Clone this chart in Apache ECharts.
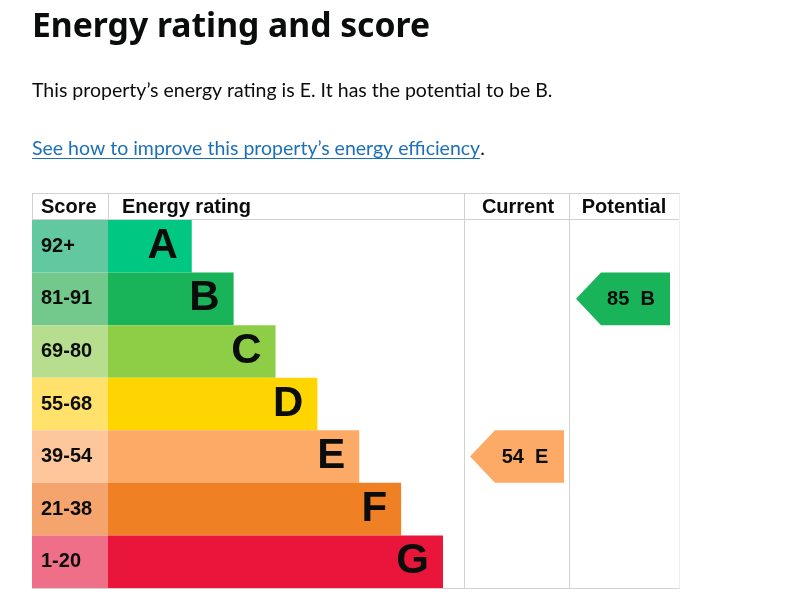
<!DOCTYPE html>
<html>
<head>
<meta charset="utf-8">
<script src="https://cdn.jsdelivr.net/npm/echarts@6/dist/echarts.min.js"></script>
<style>
html,body{margin:0;padding:0;background:#fff;}
#chart{width:788px;height:600px;}
</style>
</head>
<body>
<div id="chart"></div>
<script>
// ---- data ----
const ratings = ['A', 'B', 'C', 'D', 'E', 'F', 'G'];
const scoreRanges = ['92+', '81-91', '69-80', '55-68', '39-54', '21-38', '1-20'];
const barLengths = [2, 3, 4, 5, 6, 7, 8];
const bandColors = ['#00c781', '#19b459', '#8dce46', '#ffd500', '#fcaa65', '#ef8023', '#e9153b'];
const scoreColors = ['#62c8a0', '#72c98b', '#b6de8e', '#ffe16c', '#fdc79b', '#f4a46c', '#ef6f88'];
const headers = ['Score', 'Energy rating', 'Current', 'Potential'];
const currentScore = 54;
const currentRating = 'E';
const potentialScore = 85;
const potentialRating = 'B';
const titleText = 'Energy rating and score';
const bodyText = 'This property\u2019s energy rating is E. It has the potential to be B.';
const linkText = 'See how to improve this property\u2019s energy efficiency';

// ---- layout ----
const tableLeft = 32, tableRight = 680, tableTop = 193.5, headerBottom = 219.5, tableBottom = 588.5;
const rowsTop = 220, rowsHeight = 368;
const colScore = [32, 108], colRating = [108, 443], colCurrent = [464, 570], colPotential = [570, 680];
const lineColor = '#d2d2d2';
const textFont = 'Liberation Sans';
const bodyFont = '19.5px Lato';

const chart = echarts.init(document.getElementById('chart'), null, { renderer: 'canvas' });

const ctx = document.createElement('canvas').getContext('2d');
ctx.font = bodyFont;
const linkWidth = ctx.measureText(linkText).width;

function makeGrid(col) {
  return { left: col[0], top: rowsTop, width: col[1] - col[0], height: rowsHeight, containLabel: false };
}
function catAxis(i) {
  return { type: 'category', gridIndex: i, data: ratings, inverse: true, show: false };
}

function arrowRender(params, api) {
  const idx = api.value(1);
  const c = api.coord([0, idx]);
  const h = api.size([0, 1])[1];
  const left = c[0] + 6;
  const w = 94, tip = 25;
  const top = c[1] - h / 2, bottom = c[1] + h / 2;
  const score = api.value(2);
  const letter = ratings[idx];
  return {
    type: 'group',
    children: [
      {
        type: 'polygon',
        shape: { points: [[left, c[1]], [left + tip, top], [left + w, top], [left + w, bottom], [left + tip, bottom]] },
        style: { fill: bandColors[idx] }
      },
      {
        type: 'text',
        style: {
          text: score + '  ' + letter,
          x: left + 55, y: c[1] + 1,
          align: 'center', verticalAlign: 'middle',
          font: 'bold 20px "' + textFont + '"',
          fill: '#0b0c0c'
        }
      }
    ]
  };
}

const lines = [
  [tableLeft, tableTop, tableRight, tableTop],
  [tableLeft, headerBottom, tableRight, headerBottom],
  [tableLeft, tableBottom, tableRight, tableBottom],
  [32.5, tableTop, 32.5, headerBottom],
  [108.5, tableTop, 108.5, headerBottom],
  [464.5, tableTop, 464.5, tableBottom],
  [569.5, tableTop, 569.5, tableBottom]
];

const graphics = lines.map(l => ({
  type: 'line', z: -1, silent: true,
  shape: { x1: l[0], y1: l[1], x2: l[2], y2: l[3] },
  style: { stroke: lineColor, lineWidth: 1 }
}));
graphics.push({
  type: 'line', z: -1, silent: true,
  shape: { x1: 679.5, y1: tableTop, x2: 679.5, y2: tableBottom },
  style: { stroke: '#efefef', lineWidth: 1 }
});
graphics.push(
  { type: 'text', style: { text: titleText, x: 32, y: 27.5, verticalAlign: 'middle', font: 'bold 33.7px "Noto Sans"', fill: '#0b0c0c' } },
  { type: 'text', style: { text: bodyText, x: 32, y: 91, verticalAlign: 'middle', font: bodyFont, fill: '#0b0c0c' } },
  { type: 'text', style: { text: linkText, x: 32, y: 149, verticalAlign: 'middle', font: bodyFont, fill: '#1d70b8' } },
  { type: 'text', style: { text: '.', x: 32 + linkWidth, y: 149, verticalAlign: 'middle', font: bodyFont, fill: '#0b0c0c' } },
  { type: 'line', shape: { x1: 32, y1: 158.5, x2: 32 + linkWidth, y2: 158.5 }, style: { stroke: '#1d70b8', lineWidth: 1 } },
  { type: 'text', style: { text: headers[0], x: 41, y: 207.5, verticalAlign: 'middle', font: 'bold 20px "' + textFont + '"', fill: '#0b0c0c' } },
  { type: 'text', style: { text: headers[1], x: 122, y: 207.5, verticalAlign: 'middle', font: 'bold 20px "' + textFont + '"', fill: '#0b0c0c' } },
  { type: 'text', style: { text: headers[2], x: (colCurrent[0] + colCurrent[1]) / 2 + 1, y: 207.5, align: 'center', verticalAlign: 'middle', font: 'bold 20px "' + textFont + '"', fill: '#0b0c0c' } },
  { type: 'text', style: { text: headers[3], x: (colPotential[0] + colPotential[1]) / 2 - 1, y: 207.5, align: 'center', verticalAlign: 'middle', font: 'bold 20px "' + textFont + '"', fill: '#0b0c0c' } }
);

const option = {
  animation: false,
  grid: [makeGrid(colScore), makeGrid(colRating), makeGrid(colCurrent), makeGrid(colPotential)],
  xAxis: [
    { type: 'value', gridIndex: 0, min: 0, max: 1, show: false },
    { type: 'value', gridIndex: 1, min: 0, max: 8, show: false },
    { type: 'value', gridIndex: 2, min: 0, max: 1, show: false },
    { type: 'value', gridIndex: 3, min: 0, max: 1, show: false }
  ],
  yAxis: [catAxis(0), catAxis(1), catAxis(2), catAxis(3)],
  graphic: graphics,
  series: [
    {
      type: 'bar', xAxisIndex: 0, yAxisIndex: 0, barCategoryGap: '0%', silent: true,
      data: scoreRanges.map((s, i) => ({ value: 1, itemStyle: { color: scoreColors[i] } })),
      label: {
        show: true, position: 'insideLeft', distance: 9,
        formatter: p => scoreRanges[p.dataIndex],
        fontFamily: textFont, fontWeight: 'bold', fontSize: 20, color: '#0b0c0c'
      }
    },
    {
      type: 'bar', xAxisIndex: 1, yAxisIndex: 1, barCategoryGap: '0%', silent: true,
      data: barLengths.map((v, i) => ({ value: v, itemStyle: { color: bandColors[i] } })),
      label: {
        show: true, position: 'insideRight', distance: 14,
        formatter: p => ratings[p.dataIndex],
        fontFamily: textFont, fontWeight: 'bold', fontSize: 42, color: '#0b0c0c'
      }
    },
    {
      type: 'custom', xAxisIndex: 2, yAxisIndex: 2, silent: true,
      renderItem: arrowRender,
      data: [[0, currentRating, currentScore]]
    },
    {
      type: 'custom', xAxisIndex: 3, yAxisIndex: 3, silent: true,
      renderItem: arrowRender,
      data: [[0, potentialRating, potentialScore]]
    }
  ]
};
chart.setOption(option);
</script>
</body>
</html>
